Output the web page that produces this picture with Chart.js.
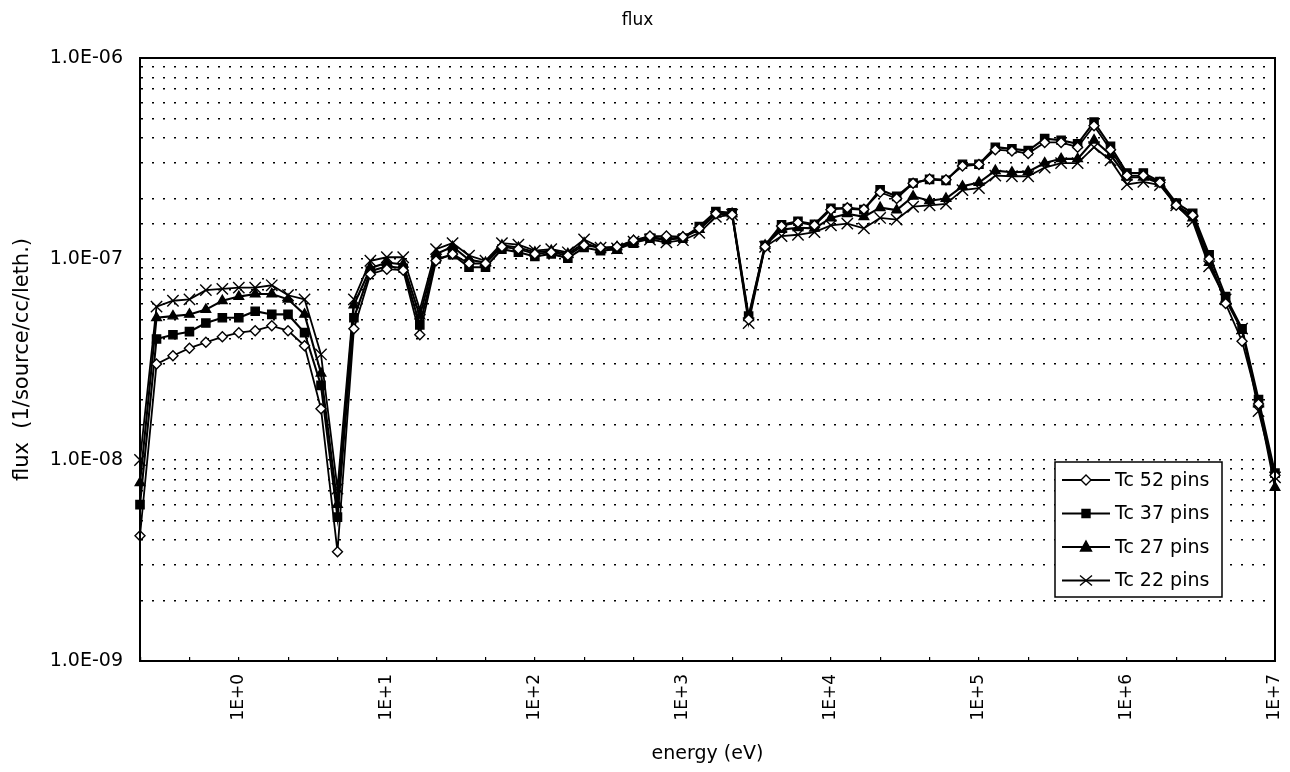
<!DOCTYPE html>
<html>
<head>
<meta charset="utf-8">
<title>flux</title>
<script src="https://cdn.jsdelivr.net/npm/chart.js@4.4.1/dist/chart.umd.min.js"></script>
<style>
  html, body { margin: 0; padding: 0; background: #fff; }
  #fluxChart { display: block; }
</style>
</head>
<body>
<canvas id="fluxChart" width="1290" height="772"></canvas>
<script>
// group energies (eV), 9 groups per decade
const energy = [
  0.215, 0.278, 0.359, 0.464, 0.599, 0.774, 1, 1.29, 1.67,
  2.15, 2.78, 3.59, 4.64, 5.99, 7.74, 10, 12.9, 16.7,
  21.5, 27.8, 35.9, 46.4, 59.9, 77.4, 100, 129, 167,
  215, 278, 359, 464, 599, 774, 1000, 1290, 1670,
  2150, 2780, 3590, 4640, 5990, 7740, 1.0e4, 1.29e4, 1.67e4,
  2.15e4, 2.78e4, 3.59e4, 4.64e4, 5.99e4, 7.74e4, 1.0e5, 1.29e5, 1.67e5,
  2.15e5, 2.78e5, 3.59e5, 4.64e5, 5.99e5, 7.74e5, 1.0e6, 1.29e6, 1.67e6,
  2.15e6, 2.78e6, 3.59e6, 4.64e6, 5.99e6, 7.74e6, 1.0e7
];

// flux per lethargy (1/source/cc/leth.)
const tc52 = [
  4.2e-9, 3.0e-8, 3.3e-8, 3.6e-8, 3.85e-8, 4.1e-8, 4.3e-8, 4.4e-8, 4.65e-8,
  4.4e-8, 3.7e-8, 1.8e-8, 3.5e-9, 4.5e-8, 8.4e-8, 8.9e-8, 8.8e-8, 4.2e-8,
  9.8e-8, 1.06e-7, 9.5e-8, 9.5e-8, 1.15e-7, 1.12e-7, 1.06e-7, 1.08e-7, 1.04e-7,
  1.17e-7, 1.14e-7, 1.15e-7, 1.24e-7, 1.3e-7, 1.3e-7, 1.29e-7, 1.42e-7, 1.68e-7,
  1.66e-7, 5.0e-8, 1.15e-7, 1.46e-7, 1.52e-7, 1.47e-7, 1.76e-7, 1.8e-7, 1.77e-7,
  2.15e-7, 2.0e-7, 2.38e-7, 2.5e-7, 2.48e-7, 2.9e-7, 2.95e-7, 3.5e-7, 3.45e-7,
  3.35e-7, 3.8e-7, 3.8e-7, 3.6e-7, 4.6e-7, 3.5e-7, 2.6e-7, 2.6e-7, 2.4e-7,
  1.85e-7, 1.65e-7, 1.0e-7, 6.0e-8, 3.9e-8, 1.9e-8, 8.4e-9
];
const tc37 = [
  6.0e-9, 4.0e-8, 4.2e-8, 4.35e-8, 4.8e-8, 5.1e-8, 5.1e-8, 5.5e-8, 5.3e-8,
  5.3e-8, 4.3e-8, 2.35e-8, 5.2e-9, 5.1e-8, 8.7e-8, 9.2e-8, 9.0e-8, 4.7e-8,
  1.0e-7, 1.05e-7, 9.1e-8, 9.1e-8, 1.12e-7, 1.08e-7, 1.03e-7, 1.06e-7, 1.01e-7,
  1.14e-7, 1.1e-7, 1.12e-7, 1.2e-7, 1.27e-7, 1.25e-7, 1.27e-7, 1.45e-7, 1.72e-7,
  1.7e-7, 5.2e-8, 1.17e-7, 1.48e-7, 1.54e-7, 1.49e-7, 1.79e-7, 1.78e-7, 1.76e-7,
  2.21e-7, 2.05e-7, 2.39e-7, 2.49e-7, 2.46e-7, 2.96e-7, 2.96e-7, 3.6e-7, 3.53e-7,
  3.46e-7, 3.97e-7, 3.9e-7, 3.74e-7, 4.8e-7, 3.64e-7, 2.68e-7, 2.68e-7, 2.43e-7,
  1.9e-7, 1.69e-7, 1.05e-7, 6.5e-8, 4.5e-8, 2.0e-8, 8.6e-9
];
const tc27 = [
  7.7e-9, 5.1e-8, 5.2e-8, 5.3e-8, 5.6e-8, 6.2e-8, 6.5e-8, 6.7e-8, 6.7e-8,
  6.3e-8, 5.3e-8, 2.7e-8, 6.0e-9, 5.9e-8, 9.0e-8, 9.6e-8, 9.4e-8, 5.2e-8,
  1.06e-7, 1.15e-7, 9.9e-8, 9.6e-8, 1.17e-7, 1.14e-7, 1.08e-7, 1.1e-7, 1.06e-7,
  1.2e-7, 1.13e-7, 1.15e-7, 1.23e-7, 1.28e-7, 1.26e-7, 1.28e-7, 1.4e-7, 1.67e-7,
  1.68e-7, 5.1e-8, 1.17e-7, 1.4e-7, 1.43e-7, 1.42e-7, 1.6e-7, 1.68e-7, 1.62e-7,
  1.8e-7, 1.75e-7, 2.05e-7, 1.95e-7, 2.0e-7, 2.3e-7, 2.4e-7, 2.75e-7, 2.7e-7,
  2.72e-7, 3.0e-7, 3.15e-7, 3.15e-7, 3.9e-7, 3.3e-7, 2.55e-7, 2.55e-7, 2.38e-7,
  1.85e-7, 1.6e-7, 9.6e-8, 6.3e-8, 4.4e-8, 1.9e-8, 7.3e-9
];
const tc22 = [
  1.0e-8, 5.8e-8, 6.2e-8, 6.3e-8, 7.0e-8, 7.1e-8, 7.2e-8, 7.2e-8, 7.4e-8,
  6.6e-8, 6.3e-8, 3.35e-8, 7.2e-9, 6.3e-8, 9.8e-8, 1.02e-7, 1.02e-7, 5.6e-8,
  1.12e-7, 1.2e-7, 1.04e-7, 9.8e-8, 1.2e-7, 1.18e-7, 1.1e-7, 1.12e-7, 1.08e-7,
  1.25e-7, 1.14e-7, 1.13e-7, 1.22e-7, 1.25e-7, 1.21e-7, 1.24e-7, 1.35e-7, 1.62e-7,
  1.66e-7, 4.8e-8, 1.15e-7, 1.3e-7, 1.32e-7, 1.36e-7, 1.47e-7, 1.5e-7, 1.42e-7,
  1.6e-7, 1.57e-7, 1.82e-7, 1.85e-7, 1.88e-7, 2.2e-7, 2.25e-7, 2.6e-7, 2.58e-7,
  2.58e-7, 2.85e-7, 3.0e-7, 3.0e-7, 3.6e-7, 3.1e-7, 2.35e-7, 2.42e-7, 2.33e-7,
  1.85e-7, 1.54e-7, 9.2e-8, 6.3e-8, 4.5e-8, 1.75e-8, 8.2e-9
];

const seriesNames = ['Tc 52 pins', 'Tc 37 pins', 'Tc 27 pins', 'Tc 22 pins'];

const FONT = 'DejaVu Sans';

function points(values) {
  return energy.map((e, i) => ({ x: e, y: values[i] }));
}

function series(label, values, style, radius, fill, lineWidth) {
  return {
    label: label,
    data: points(values),
    borderColor: '#000',
    borderWidth: lineWidth,
    pointStyle: style,
    pointRadius: radius,
    pointBorderColor: '#000',
    pointBackgroundColor: fill,
    pointBorderWidth: 1.4,
    fill: false,
    tension: 0,
    clip: false
  };
}

// '1E+3' style for the energy decades
function energyLabel(v) {
  const p = Math.log10(v);
  const n = Math.round(p);
  if (Math.abs(p - n) > 1e-6) return '';
  return '1E' + (n < 0 ? '-' : '+') + Math.abs(n);
}

// '1.0E-07' style for the flux decades
function fluxLabel(v) {
  const p = Math.log10(v);
  const n = Math.round(p);
  if (Math.abs(p - n) > 1e-6) return '';
  return '1.0E' + (n < 0 ? '-' : '+') + String(Math.abs(n)).padStart(2, '0');
}

// marker shapes for the legend samples
function drawMarker(ctx, style, x, y) {
  ctx.save();
  ctx.strokeStyle = '#000';
  ctx.lineWidth = 1.4;
  ctx.beginPath();
  if (style === 'rectRot') {
    ctx.fillStyle = '#fff';
    ctx.moveTo(x - 5, y); ctx.lineTo(x, y - 5); ctx.lineTo(x + 5, y); ctx.lineTo(x, y + 5);
    ctx.closePath(); ctx.fill(); ctx.stroke();
  } else if (style === 'rect') {
    ctx.fillStyle = '#000';
    ctx.rect(x - 4, y - 4, 8, 8); ctx.fill(); ctx.stroke();
  } else if (style === 'triangle') {
    ctx.fillStyle = '#000';
    ctx.moveTo(x, y - 6); ctx.lineTo(x + 5.5, y + 4); ctx.lineTo(x - 5.5, y + 4);
    ctx.closePath(); ctx.fill(); ctx.stroke();
  } else {
    ctx.moveTo(x - 6, y - 5); ctx.lineTo(x + 6, y + 5);
    ctx.moveTo(x + 6, y - 5); ctx.lineTo(x - 6, y + 5);
    ctx.stroke();
  }
  ctx.restore();
}

// box legend sitting inside the plot, lower right
const boxLegend = {
  id: 'boxLegend',
  afterDraw(chart) {
    const { ctx, chartArea } = chart;
    const left = chartArea.right - 220;
    const top = chartArea.top + 404;
    const w = 167, h = 135, row = 33.5;
    ctx.save();
    ctx.fillStyle = '#fff';
    ctx.fillRect(left, top, w, h);
    ctx.strokeStyle = '#000';
    ctx.lineWidth = 1.5;
    ctx.strokeRect(left, top, w, h);
    ctx.font = '19px "' + FONT + '"';
    ctx.textBaseline = 'middle';
    chart.data.datasets.forEach((ds, i) => {
      const y = top + 18 + i * row;
      ctx.strokeStyle = '#000';
      ctx.lineWidth = ds.borderWidth;
      ctx.beginPath();
      ctx.moveTo(left + 7, y);
      ctx.lineTo(left + 55, y);
      ctx.stroke();
      drawMarker(ctx, ds.pointStyle, left + 31, y);
      ctx.fillStyle = '#000';
      ctx.fillText(ds.label, left + 60, y + 1);
    });
    ctx.restore();
  }
};

// solid frame round the plot area
const plotFrame = {
  id: 'plotFrame',
  afterDatasetsDraw(chart) {
    const { ctx, chartArea: a } = chart;
    ctx.save();
    ctx.strokeStyle = '#000';
    ctx.lineWidth = 2;
    ctx.strokeRect(a.left, a.top, a.right - a.left, a.bottom - a.top);
    ctx.restore();
  }
};

const config = {
  type: 'line',
  data: {
    datasets: [
      series(seriesNames[0], tc52, 'rectRot', 5, '#fff', 1.8),
      series(seriesNames[1], tc37, 'rect', 5.8, '#000', 2.1),
      series(seriesNames[2], tc27, 'triangle', 5.5, '#000', 2.1),
      series(seriesNames[3], tc22, 'crossRot', 8, '#000', 1.8)
    ]
  },
  options: {
    responsive: false,
    animation: false,
    devicePixelRatio: 1,
    layout: { padding: { left: 0, right: 15, top: 0, bottom: 0 } },
    plugins: {
      legend: { display: false },
      tooltip: { enabled: false },
      title: {
        display: true,
        text: 'flux',
        color: '#000',
        font: { family: FONT, size: 17, weight: 'normal' },
        padding: { top: 10, bottom: 27.6 }
      }
    },
    scales: {
      x: {
        type: 'logarithmic',
        min: energy[0],
        max: energy[energy.length - 1],
        afterBuildTicks(scale) {
          // tick marks every third of a decade
          const list = [];
          for (let n = -2; n <= 21; n++) list.push({ value: Math.pow(10, n / 3) });
          scale.ticks = list;
        },
        afterFit(scale) {
          scale.height = 111;
          // the rotated end labels may overhang the plot edges
          scale.paddingLeft = 0;
          scale.paddingRight = 0;
        },
        grid: {
          display: true,
          drawOnChartArea: false,
          drawTicks: true,
          tickLength: -4,   // short marks pointing into the plot
          color: '#000',
          lineWidth: 1.2
        },
        border: { display: true, color: '#000', width: 2 },
        ticks: {
          autoSkip: false,
          minRotation: 90,
          maxRotation: 90,
          padding: 17,
          color: '#000',
          font: { family: FONT, size: 17 },
          callback: (v) => energyLabel(v)
        },
        title: {
          display: true,
          text: 'energy (eV)',
          color: '#000',
          font: { family: FONT, size: 19 },
          padding: { top: 0, bottom: 7 }
        }
      },
      y: {
        type: 'logarithmic',
        min: 1e-9,
        max: 1e-6,
        afterFit(scale) { scale.width = 140; },
        grid: {
          display: true,
          drawOnChartArea: true,
          drawTicks: false,
          color: '#000',
          lineWidth: 1.6
        },
        border: { display: true, color: '#000', width: 2, dash: [2, 9] },
        ticks: {
          autoSkip: false,
          padding: 17,
          color: '#000',
          font: { family: FONT, size: 19 },
          callback: (v) => fluxLabel(v)
        },
        title: {
          display: true,
          text: 'flux  (1/source/cc/leth.)',
          color: '#000',
          font: { family: FONT, size: 21 },
          padding: { top: 10, bottom: 0 }
        }
      }
    }
  },
  plugins: [plotFrame, boxLegend]
};

new Chart(document.getElementById('fluxChart'), config);
</script>
</body>
</html>
